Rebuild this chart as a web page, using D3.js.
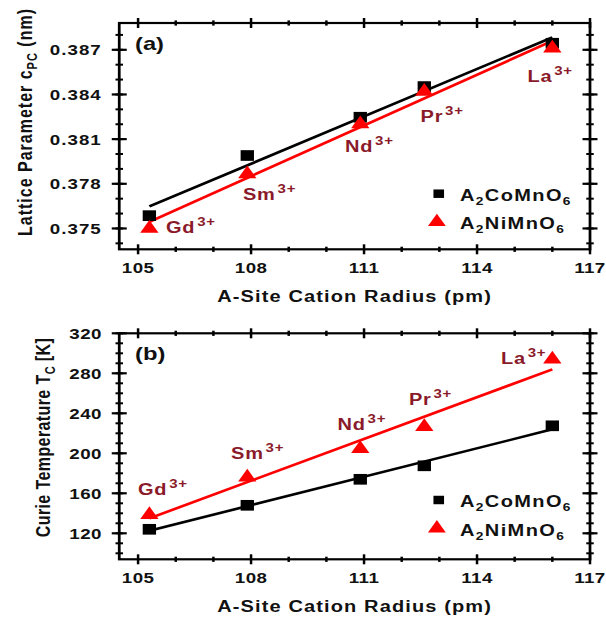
<!DOCTYPE html>
<html>
<head>
<meta charset="utf-8">
<script src="https://cdn.jsdelivr.net/npm/d3@7"></script>
<style>
body { margin: 0; background: #fff; }
svg text { font-family: "Liberation Sans", Arial, sans-serif; font-weight: bold; }
</style>
</head>
<body>
<script>
// data
var ions = ["Gd", "Sm", "Nd", "Pr", "La"];
var radius = [105.3, 107.9, 110.9, 112.6, 116.0];
var latticeCo = [0.37586, 0.3799, 0.38247, 0.38453, 0.38744];
var latticeNi = [0.3750, 0.37866, 0.38202, 0.3842, 0.3871];
var curieCo = [124, 148, 174, 187.5, 227.5];
var curieNi = [138.5, 176, 204.5, 226.5, 294];
var xTicks = [105, 108, 111, 114, 117];
var latticeTicks = [0.375, 0.378, 0.381, 0.384, 0.387];
var curieTicks = [120, 160, 200, 240, 280, 320];
var coName = ["A", "2", "CoMnO", "6"];
var niName = ["A", "2", "NiMnO", "6"];

// the original picture is stretched sideways, so draw in a squeezed viewBox
var sx = 1.25;
var W = 606 / sx, H = 617;
var left = 95.4, right = 472;
var labelColor = "#8a1a2a";

var svg = d3.select("body").append("svg")
    .attr("width", 606).attr("height", 617)
    .attr("viewBox", "0 0 " + W + " " + H)
    .attr("preserveAspectRatio", "none");

var x = d3.scaleLinear().domain([104.5, 117]).range([left, right]);

function fit(xs, ys) {
    var mx = d3.mean(xs), my = d3.mean(ys);
    var sxy = d3.sum(xs, function(d, i) { return (d - mx) * (ys[i] - my); });
    var sxx = d3.sum(xs, function(d) { return (d - mx) * (d - mx); });
    var b = sxy / sxx;
    return function(v) { return my + b * (v - mx); };
}

function drawPanel(p) {
    var g = svg.append("g");
    var y = d3.scaleLinear().domain(p.yDomain).range([p.bottom, p.top]);

    // fit lines
    [[p.co, "#000"], [p.ni, "#ff0000"]].forEach(function(s) {
        var f = fit(radius, s[0]);
        var ends = [radius[0], radius[radius.length - 1]];
        g.append("path")
            .attr("d", d3.line().x(function(d) { return x(d); }).y(function(d) { return y(f(d)); })(ends))
            .attr("stroke", s[1]).attr("stroke-width", 2.6).attr("fill", "none");
    });

    // markers
    g.selectAll(".co").data(p.co).enter().append("path")
        .attr("transform", function(d, i) { return "translate(" + x(radius[i]) + "," + y(d) + ")"; })
        .attr("d", d3.symbol().type(d3.symbolSquare).size(114)())
        .attr("fill", "#000");
    g.selectAll(".ni").data(p.ni).enter().append("path")
        .attr("transform", function(d, i) { return "translate(" + x(radius[i]) + "," + y(d) + ")"; })
        .attr("d", d3.symbol().type(d3.symbolTriangle).size(93)())
        .attr("fill", "#ff0000");

    // ion labels
    p.ni.forEach(function(d, i) {
        g.append("text")
            .attr("x", x(radius[i]) + p.labelDx[i])
            .attr("y", y(d) + p.labelDy[i])
            .attr("fill", labelColor)
            .style("font-size", "16px").style("letter-spacing", "0.6px")
            .call(function(t) {
                t.append("tspan").text(ions[i]);
                t.append("tspan").attr("dx", 1.5).attr("dy", -7).style("font-size", "12px").text("3+");
            });
    });

    // frame
    g.append("rect")
        .attr("x", left).attr("y", p.top)
        .attr("width", right - left).attr("height", p.bottom - p.top)
        .attr("fill", "none").attr("stroke", "#000").attr("stroke-width", 2.2);

    // ticks on all four sides, crossing the frame
    var xMinor = d3.range(105, 118, 1);
    [p.top, p.bottom].forEach(function(yy) {
        xMinor.forEach(function(v) {
            var len = xTicks.indexOf(v) >= 0 ? 5 : 2.6;
            g.append("line").attr("x1", x(v)).attr("x2", x(v))
                .attr("y1", yy - len).attr("y2", yy + len)
                .attr("stroke", "#000").attr("stroke-width", 2);
        });
    });
    [left, right].forEach(function(xx) {
        p.minor.forEach(function(v) {
            g.append("line").attr("x1", xx - 3).attr("x2", xx + 3)
                .attr("y1", y(v)).attr("y2", y(v))
                .attr("stroke", "#000").attr("stroke-width", 2);
        });
        p.ticks.forEach(function(v) {
            g.append("line").attr("x1", xx - 6).attr("x2", xx + 6)
                .attr("y1", y(v)).attr("y2", y(v))
                .attr("stroke", "#000").attr("stroke-width", 2.2);
        });
    });

    // tick labels
    g.selectAll(".xl").data(xTicks).enter().append("text")
        .attr("x", function(d) { return x(d); })
        .attr("y", p.bottom + 23.5)
        .attr("text-anchor", "middle")
        .style("font-size", "15px").style("letter-spacing", "0.3px")
        .attr("fill", "#111")
        .text(function(d) { return d; });
    g.selectAll(".yl").data(p.ticks).enter().append("text")
        .attr("x", left - 14)
        .attr("y", function(d) { return y(d); })
        .attr("dy", "0.36em")
        .attr("text-anchor", "end")
        .style("font-size", "15px").style("letter-spacing", p.yLetter)
        .attr("fill", "#111")
        .text(p.fmt);

    // panel tag
    g.append("text").attr("x", 108).attr("y", p.top + 27)
        .style("font-size", "19px").attr("fill", "#111").text(p.tag);

    // axis titles
    g.append("text")
        .attr("x", (left + right) / 2).attr("y", p.bottom + 52.4)
        .attr("text-anchor", "middle")
        .style("font-size", "16px").style("letter-spacing", "0.9px")
        .attr("fill", "#111")
        .text("A-Site Cation Radius (pm)");
    g.append("text")
        .attr("transform", "translate(" + p.titleX + "," + p.titleY + ") rotate(-90)")
        .attr("text-anchor", "middle")
        .style("font-size", "16px").style("letter-spacing", p.titleLetter)
        .attr("fill", "#111")
        .call(function(t) {
            t.append("tspan").text(p.title[0]);
            t.append("tspan").attr("dy", 4).style("font-size", "11px").text(p.title[1]);
            t.append("tspan").attr("dy", -4).text(p.title[2]);
        });

    // legend
    var ly = p.legendY;
    g.append("path").attr("transform", "translate(351," + ly[0] + ")")
        .attr("d", d3.symbol().type(d3.symbolSquare).size(72)()).attr("fill", "#000");
    g.append("path").attr("transform", "translate(349.5," + ly[1] + ")")
        .attr("d", d3.symbol().type(d3.symbolTriangle).size(88)()).attr("fill", "#ff0000");
    [coName, niName].forEach(function(n, k) {
        g.append("text").attr("x", 368).attr("y", ly[k] + 7.5)
            .style("font-size", "16px").style("letter-spacing", "1.1px")
            .attr("fill", "#111")
            .call(function(t) {
                t.append("tspan").text(n[0]);
                t.append("tspan").attr("dy", 4).style("font-size", "11px").text(n[1]);
                t.append("tspan").attr("dy", -4).text(n[2]);
                t.append("tspan").attr("dy", 4).style("font-size", "11px").text(n[3]);
            });
    });
}

drawPanel({
    tag: "(a)", top: 23, bottom: 249.3,
    yDomain: [0.3736, 0.3888],
    ticks: latticeTicks,
    minor: d3.range(3740, 3889, 10).map(function(v) { return v / 10000; }),
    fmt: d3.format(".3f"), yLetter: "0.8px",
    co: latticeCo, ni: latticeNi,
    labelDx: [13.3, -3.4, -12.2, -3, -19.9],
    labelDy: [4.7, 26, 28, 30.2, 33.4],
    title: ["Lattice Parameter c", "PC", " (nm)"],
    titleX: 25.5, titleY: 122, titleLetter: "1px",
    legendY: [193.7, 222]
});

drawPanel({
    tag: "(b)", top: 333.3, bottom: 559.3,
    yDomain: [94, 320],
    ticks: curieTicks,
    minor: d3.range(100, 321, 10),
    fmt: d3.format("d"), yLetter: "0.3px",
    co: curieCo, ni: curieNi,
    labelDx: [-9.1, -13, -18.2, -12.3, -41.1],
    labelDy: [-20, -18, -19, -21.7, 4.7],
    title: ["Curie Temperature T", "C", " [K]"],
    titleX: 40, titleY: 437.5, titleLetter: "0.4px",
    legendY: [500, 528.3]
});
</script>
</body>
</html>
